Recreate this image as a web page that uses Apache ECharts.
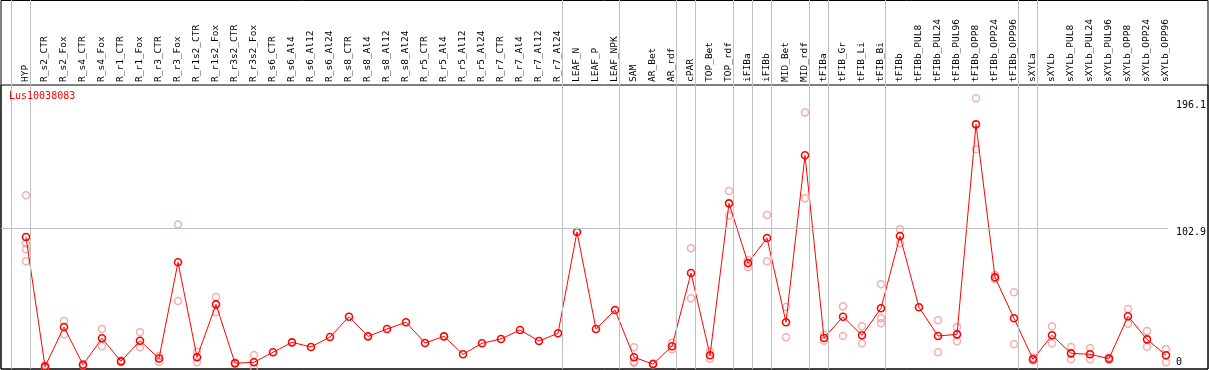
<!DOCTYPE html>
<html>
<head>
<meta charset="utf-8">
<script src="https://cdn.jsdelivr.net/npm/echarts@6/dist/echarts.min.js"></script>
<style>html,body{margin:0;padding:0;background:#fff;}#chart{width:1209px;height:370px;}</style>
</head>
<body>
<div id="chart"></div>
<script>
const chartTitle = 'Lus10038083';
const categories = ['HYP','R_s2_CTR','R_s2_Fox','R_s4_CTR','R_s4_Fox','R_r1_CTR','R_r1_Fox','R_r3_CTR','R_r3_Fox','R_r1s2_CTR','R_r1s2_Fox','R_r3s2_CTR','R_r3s2_Fox','R_s6_CTR','R_s6_Al4','R_s6_Al12','R_s6_Al24','R_s8_CTR','R_s8_Al4','R_s8_Al12','R_s8_Al24','R_r5_CTR','R_r5_Al4','R_r5_Al12','R_r5_Al24','R_r7_CTR','R_r7_Al4','R_r7_Al12','R_r7_Al24','LEAF_N','LEAF_P','LEAF_NPK','SAM','AR_Bet','AR_rdf','cPAR','TOP_Bet','TOP_rdf','iFIBa','iFIBb','MID_Bet','MID_rdf','tFIBa','tFIB_Gr','tFIB_Li','tFIB_Bi','tFIBb','tFIBb_PUL8','tFIBb_PUL24','tFIBb_PUL96','tFIBb_OPP8','tFIBb_OPP24','tFIBb_OPP96','sXYLa','sXYLb','sXYLb_PUL8','sXYLb_PUL24','sXYLb_PUL96','sXYLb_OPP8','sXYLb_OPP24','sXYLb_OPP96'];
const meanValues = [96.5,1.0,30.2,2.4,21.9,4.9,20.1,7.0,77.9,7.9,46.9,3.5,4.2,11.6,18.9,15.5,22.8,37.8,23.3,28.7,33.7,18.4,23.3,10.1,18.2,21.4,28.0,19.9,25.6,100.2,28.7,42.7,7.9,2.9,16.0,70.0,9.4,121.3,77.3,95.8,33.7,156.7,22.1,37.8,24.1,44.0,97.2,44.7,23.6,24.8,179.5,66.8,36.6,6.4,24.1,10.8,10.1,6.9,38.1,21.1,9.4];
const replicateValues = [[127.2,91.9,87.4,78.6],[2.2,0.3],[34.6,24.8],[3.0,1.8],[28.7,16.0],[5.6,4.2],[26.3,15.2],[8.8,4.6],[105.8,49.4],[12.0,4.2],[52.3,41.0],[4.0,3.0],[9.6,0.0],
[],[],[],[],[],[],[],[],[],[],[],[],[],[],[],[],[],[],[],
[15.2,4.6,3.9],[3.3,2.5],[18.6,13.8],[88.2,51.3],[12.3,6.8],[130.4,112.2],[79.5,74.2],[112.7,78.6],[44.9,22.6],[188.3,125.0],[24.3,20.0],[45.4,23.6],[30.7,18.2],[61.7,36.6,32.9],[102.2,91.9],[],[35.1,11.6],[30.2,19.7],[198.7,161.1],[68.5,65.3],[55.8,17.5],[7.5,5.5],[30.7,18.2],[15.5,6.4],[14.7,6.4],[7.8,5.9],[43.5,32.6],[27.3,15.7],[14.0,4.2]];
const yTickLabels = [0, 102.9, 196.1];
const refLineValue = 102.9;
const groupSizes = [1,28,3,3,1,2,1,1,2,1,3,7,1,7];

// layout constants
const Y_MIN = -0.74, Y_MAX = 208.5;
const X_MIN = -25/19, X_MAX = -25/19 + 1169/19;
const SEP_OFFSET = 4.5/19;

const sepValues = [-1 + SEP_OFFSET];
let acc = -1;
groupSizes.forEach(s => { acc += s; sepValues.push(acc + SEP_OFFSET); });

const scatterData = [];
replicateValues.forEach((arr, i) => arr.forEach(v => scatterData.push([categories[i], v])));

const mono = 'DejaVu Sans Mono';
const chart = echarts.init(document.getElementById('chart'), null, {renderer: 'canvas'});
const hiddenAxis = (type, gi, extra) => Object.assign({type: type, gridIndex: gi, show: false}, extra || {});

chart.setOption({
  animation: false,
  title: {text: chartTitle, left: 9, top: 91, padding: 0, textStyle: {color: '#ff0000', fontFamily: mono, fontSize: 10, fontWeight: 'normal'}},
  grid: [
    {left: 1, right: 39, top: 85, bottom: 1},
    {left: 26, right: 43, top: 85, bottom: 1},
    {left: 1, right: 39, top: 0, bottom: 1},
    {left: 1, right: 1, top: 0.5, bottom: 1, show: true, borderColor: '#000', borderWidth: 1, backgroundColor: 'transparent'},
    {left: 1, right: 1, top: 85, bottom: 1, show: true, borderColor: '#000', borderWidth: 1, backgroundColor: 'transparent'}
  ],
  xAxis: [
    hiddenAxis('value', 0, {min: X_MIN, max: X_MAX}),
    {type: 'category', gridIndex: 1, data: categories, boundaryGap: false, position: 'top',
     axisLine: {show: false}, axisTick: {show: false}, splitLine: {show: false},
     axisLabel: {interval: 0, rotate: 90, margin: 3, fontFamily: mono, fontSize: 9.5, color: '#000'}},
    hiddenAxis('value', 2, {min: X_MIN, max: X_MAX}),
    hiddenAxis('value', 3, {min: 0, max: 1}),
    hiddenAxis('value', 4, {min: 0, max: 1})
  ],
  yAxis: [
    {type: 'value', gridIndex: 0, position: 'right', min: Y_MIN, max: Y_MAX,
     axisLine: {show: false}, axisTick: {show: false}, splitLine: {show: false},
     axisLabel: {customValues: yTickLabels, margin: 8, fontFamily: mono, fontSize: 10, color: '#000',
       formatter: v => v === 0 ? '{b|0}' : '{t|' + v + '}',
       rich: {t: {fontFamily: mono, fontSize: 10, padding: [8, 0, 0, 0]}, b: {fontFamily: mono, fontSize: 10, padding: [0, 0, 11, 0]}}}},
    hiddenAxis('value', 1, {min: Y_MIN, max: Y_MAX}),
    hiddenAxis('value', 2, {min: 0, max: 1}),
    hiddenAxis('value', 3, {min: 0, max: 1}),
    hiddenAxis('value', 4, {min: 0, max: 1})
  ],
  series: [
    {type: 'line', xAxisIndex: 2, yAxisIndex: 2, data: [], silent: true,
     markLine: {silent: true, symbol: 'none', label: {show: false}, animation: false,
       lineStyle: {color: '#c0c0c0', type: 'solid', width: 1},
       data: sepValues.map(v => ({xAxis: v}))}},
    {type: 'line', xAxisIndex: 0, yAxisIndex: 0, data: [], silent: true,
     markLine: {silent: true, symbol: 'none', label: {show: false}, animation: false,
       lineStyle: {color: '#c0c0c0', type: 'solid', width: 1},
       data: [{yAxis: refLineValue}]}},
    {type: 'scatter', xAxisIndex: 1, yAxisIndex: 1, data: scatterData, symbol: 'circle', symbolSize: 7, clip: false,
     itemStyle: {color: 'rgba(0,0,0,0)', borderColor: '#f09a9a', borderWidth: 1.5}},
    {type: 'line', xAxisIndex: 1, yAxisIndex: 1, data: meanValues, symbol: 'circle', symbolSize: 7, showSymbol: true,
     lineStyle: {color: '#ff0000', width: 1},
     itemStyle: {color: 'rgba(0,0,0,0)', borderColor: '#ff0000', borderWidth: 1.6}}
  ]
});
</script>
</body>
</html>
